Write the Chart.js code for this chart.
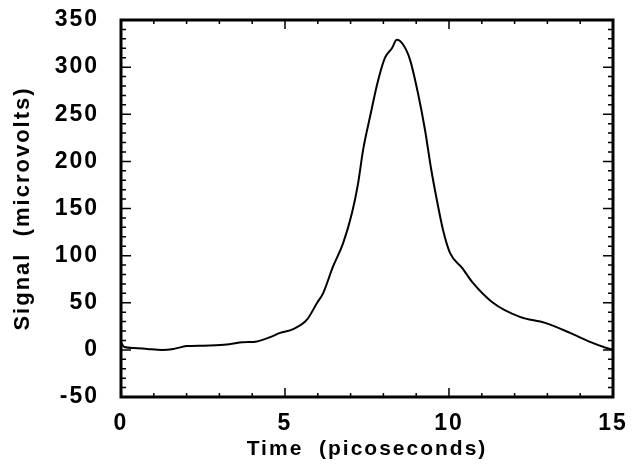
<!DOCTYPE html>
<html>
<head>
<meta charset="utf-8">
<script src="https://cdn.jsdelivr.net/npm/chart.js@4"></script>
<style>
  html, body { margin: 0; padding: 0; background: #fff; }
  #wrap { width: 637px; height: 472px; }
</style>
</head>
<body>
<div id="wrap"><canvas id="myChart" width="637" height="472"></canvas></div>
<script>
// picoseconds
const timePs = [0, 0.1, 0.4, 0.8, 1.25, 1.6, 2.0, 2.5, 2.9, 3.3, 3.7, 4.15, 4.55, 4.85, 5.25, 5.67, 5.98, 6.16, 6.46, 6.77, 7.04, 7.23, 7.38, 7.59, 7.84, 8.05, 8.26, 8.41, 8.6, 8.81, 9.05, 9.27, 9.45, 9.63, 9.82, 10.03, 10.4, 10.73, 11.34, 12.16, 12.93, 13.69, 14.3, 14.8, 15];
// microvolts
const signalUv = [8, 3, 2, 1, 0, 1, 4, 4.5, 5, 6, 8, 9, 13.5, 18, 22, 32, 50, 60, 88, 113, 145, 177, 212, 247, 286, 310, 320, 329, 324, 308, 273, 233, 193, 159, 127, 103, 87, 71, 50, 35, 28.6, 18, 8.5, 2, 0];

const xTicks = [0, 5, 10, 15];
const yTicks = [-50, 0, 50, 100, 150, 200, 250, 300, 350];

const font = "'Liberation Sans', Arial, Helvetica, sans-serif";

// inward tick marks on all four sides + heavy frame
const frameTicks = {
  id: 'frameTicks',
  beforeDraw(chart) {
    chart.ctx.letterSpacing = '2px';
  },
  afterDraw(chart) {
    const { ctx, chartArea: a, scales: { x, y } } = chart;
    ctx.save();
    ctx.strokeStyle = '#000';
    ctx.lineWidth = 1.5;
    ctx.beginPath();
    for (let v = 0; v <= 15; v++) {
      const px = x.getPixelForValue(v);
      const len = v % 5 === 0 ? 9 : 4;
      ctx.moveTo(px, a.bottom); ctx.lineTo(px, a.bottom - len);
      ctx.moveTo(px, a.top); ctx.lineTo(px, a.top + len);
    }
    for (let v = -50; v <= 350; v += 10) {
      const py = y.getPixelForValue(v);
      const len = v % 50 === 0 ? 10 : 5;
      ctx.moveTo(a.left, py); ctx.lineTo(a.left + len, py);
      ctx.moveTo(a.right, py); ctx.lineTo(a.right - len, py);
    }
    ctx.stroke();
    ctx.lineWidth = 3;
    ctx.strokeRect(a.left, a.top, a.right - a.left, a.bottom - a.top);
    ctx.restore();
  }
};

new Chart(document.getElementById('myChart').getContext('2d'), {
  type: 'line',
  data: {
    datasets: [{
      data: timePs.map((t, i) => ({ x: t, y: signalUv[i] })),
      borderColor: '#000',
      borderWidth: 2,
      pointRadius: 0,
      tension: 0.35,
      cubicInterpolationMode: 'monotone',
      fill: false
    }]
  },
  options: {
    responsive: false,
    animation: false,
    devicePixelRatio: 1,
    layout: { padding: { top: 20, right: 24, left: 0, bottom: 0 } },
    plugins: { legend: { display: false }, tooltip: { enabled: false } },
    scales: {
      x: {
        type: 'linear',
        min: 0,
        max: 15,
        afterBuildTicks: s => { s.ticks = xTicks.map(v => ({ value: v })); },
        afterFit: s => { s.height = 75; s.paddingLeft = 0; s.paddingRight = 0; },
        grid: { display: false, drawTicks: false },
        border: { display: false },
        ticks: { color: '#000', padding: 13, font: { family: font, size: 23, weight: 'bold' } },
        title: {
          display: true,
          text: 'Time  (picoseconds)',
          color: '#000',
          padding: { top: 0, bottom: 10 },
          font: { family: font, size: 21, weight: 'bold' }
        }
      },
      y: {
        type: 'linear',
        min: -50,
        max: 350,
        afterBuildTicks: s => { s.ticks = yTicks.map(v => ({ value: v })); },
        afterFit: s => { s.width = 121; s.paddingTop = 0; s.paddingBottom = 0; },
        grid: { display: false, drawTicks: false },
        border: { display: false },
        ticks: { color: '#000', padding: 22, font: { family: font, size: 23, weight: 'bold' } },
        title: {
          display: true,
          text: 'Signal  (microvolts)',
          color: '#000',
          padding: { top: 10, bottom: 0 },
          font: { family: font, size: 22, weight: 'bold' }
        }
      }
    }
  },
  plugins: [frameTicks]
});
</script>
</body>
</html>
